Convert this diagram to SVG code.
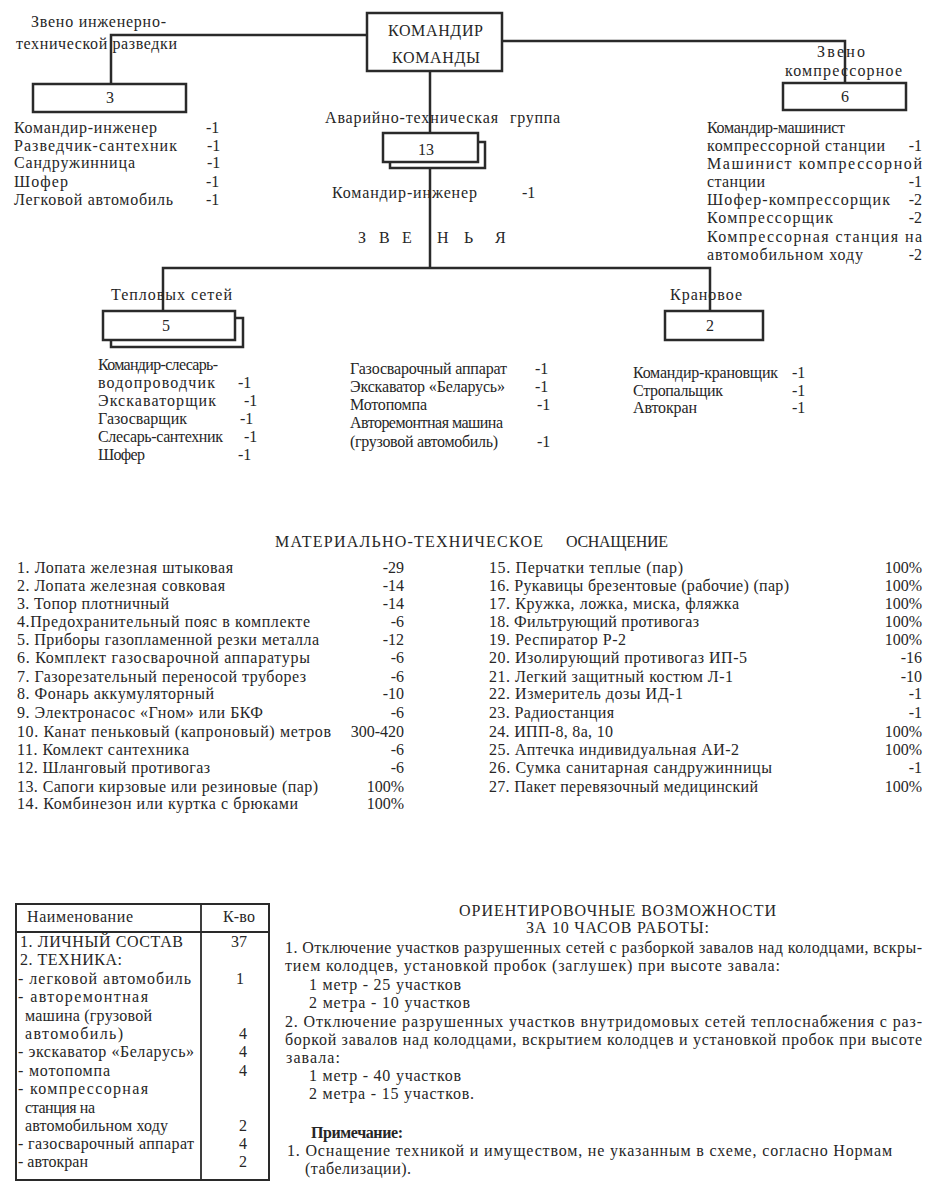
<svg xmlns="http://www.w3.org/2000/svg" width="932" height="1194" viewBox="0 0 932 1194">
<style>
text{font-family:"Liberation Serif","DejaVu Serif",serif;font-size:16px;fill:#262626}
.box{fill:#fff;stroke:#2a2a2a;stroke-width:2.5}
.back{fill:none;stroke:#2a2a2a;stroke-width:2.5}
.ln{fill:none;stroke:#2a2a2a;stroke-width:2.5}
.c{text-anchor:middle}
.e{text-anchor:end}
.b{font-weight:bold}
</style>
<rect width="932" height="1194" fill="#fff"/>

<g id="connectors">
<path class="ln" d="M111,84 V35 H367"/>
<path class="ln" d="M502,41 H845 V83"/>
<path class="ln" d="M430,71 V133"/>
<path class="ln" d="M430,168 V268"/>
<path class="ln" d="M163,311 V268 H710 V311"/>
</g>

<g id="node-cmd">
<rect class="box" x="367" y="13" width="135" height="58" stroke-width="3"/>
<text x="388" y="36" textLength="95" lengthAdjust="spacing">КОМАНДИР</text>
<text x="392" y="63" textLength="88" lengthAdjust="spacing">КОМАНДЫ</text>
</g>

<g id="node-razvedka">
<text x="31" y="27" textLength="135" lengthAdjust="spacing">Звено инженерно-</text>
<text x="16" y="49" textLength="161" lengthAdjust="spacing">технической разведки</text>
<rect class="box" x="33" y="84" width="153" height="28"/>
<text class="c" x="110" y="103">3</text>
<text x="14" y="133" textLength="143" lengthAdjust="spacing">Командир-инженер</text><text x="206" y="133">-1</text>
<text x="14" y="151" textLength="163" lengthAdjust="spacing">Разведчик-сантехник</text><text x="207" y="151">-1</text>
<text x="14" y="168" textLength="121" lengthAdjust="spacing">Сандружинница</text><text x="207" y="168">-1</text>
<text x="14" y="187" textLength="54" lengthAdjust="spacing">Шофер</text><text x="206" y="187">-1</text>
<text x="14" y="205" textLength="159" lengthAdjust="spacing">Легковой автомобиль</text><text x="206" y="205">-1</text>
</g>

<g id="node-kompr">
<text x="817" y="57" textLength="48" lengthAdjust="spacing">Звено</text>
<text x="785" y="76" textLength="117" lengthAdjust="spacing">компрессорное</text>
<rect class="box" x="783" y="83" width="123" height="27"/>
<text class="c" x="845" y="102">6</text>
<text x="707" y="133" textLength="138" lengthAdjust="spacing">Командир-машинист</text>
<text x="707" y="151" textLength="178" lengthAdjust="spacing">компрессорной станции</text><text class="e" x="922" y="151">-1</text>
<text x="707" y="169" textLength="215" lengthAdjust="spacing">Машинист компрессорной</text>
<text x="707" y="187" textLength="58" lengthAdjust="spacing">станции</text><text class="e" x="922" y="187">-1</text>
<text x="707" y="205" textLength="183" lengthAdjust="spacing">Шофер-компрессорщик</text><text class="e" x="922" y="205">-2</text>
<text x="707" y="223" textLength="126" lengthAdjust="spacing">Компрессорщик</text><text class="e" x="922" y="223">-2</text>
<text x="707" y="242" textLength="215" lengthAdjust="spacing">Компрессорная станция на</text>
<text x="707" y="260" textLength="156" lengthAdjust="spacing">автомобильном ходу</text><text class="e" x="922" y="260">-2</text>
</g>

<g id="node-avar">
<text x="325" y="123" textLength="173" lengthAdjust="spacing">Аварийно-техническая</text>
<text x="510" y="123" textLength="50" lengthAdjust="spacing">группа</text>
<path class="back" d="M478,142 H485 V168 H390 V162"/>
<rect class="box" x="383" y="133" width="95" height="29"/>
<text class="c" x="426" y="155">13</text>
<text x="332" y="198" textLength="145" lengthAdjust="spacing">Командир-инженер</text><text x="522" y="198">-1</text>
<text y="243"><tspan x="358">З</tspan><tspan x="379">В</tspan><tspan x="402">Е</tspan><tspan x="437">Н</tspan><tspan x="464">Ь</tspan><tspan x="495">Я</tspan></text>
</g>

<g id="node-teplo">
<text x="111" y="300" textLength="121" lengthAdjust="spacing">Тепловых сетей</text>
<path class="back" d="M235,318 H243 V347 H111 V340"/>
<rect class="box" x="103" y="311" width="132" height="29"/>
<text class="c" x="166" y="331">5</text>
<text x="98" y="370" textLength="120" lengthAdjust="spacing">Командир-слесарь-</text>
<text x="98" y="388" textLength="117" lengthAdjust="spacing">водопроводчик</text><text x="238" y="388">-1</text>
<text x="98" y="406" textLength="118" lengthAdjust="spacing">Экскаваторщик</text><text x="244" y="406">-1</text>
<text x="98" y="424" textLength="89" lengthAdjust="spacing">Газосварщик</text><text x="240" y="424">-1</text>
<text x="98" y="442" textLength="125" lengthAdjust="spacing">Слесарь-сантехник</text><text x="244" y="442">-1</text>
<text x="98" y="460" textLength="47" lengthAdjust="spacing">Шофер</text><text x="238" y="460">-1</text>
</g>

<g id="node-teplo-tech">
<text x="350" y="374" textLength="157" lengthAdjust="spacing">Газосварочный аппарат</text><text x="535" y="374">-1</text>
<text x="350" y="392" textLength="155" lengthAdjust="spacing">Экскаватор «Беларусь»</text><text x="535" y="392">-1</text>
<text x="350" y="410" textLength="77" lengthAdjust="spacing">Мотопомпа</text><text x="537" y="410">-1</text>
<text x="350" y="428" textLength="153" lengthAdjust="spacing">Авторемонтная машина</text>
<text x="350" y="447" textLength="148" lengthAdjust="spacing">(грузовой автомобиль)</text><text x="537" y="447">-1</text>
</g>

<g id="node-kran">
<text x="670" y="300" textLength="72" lengthAdjust="spacing">Крановое</text>
<rect class="box" x="665" y="311" width="98" height="29"/>
<text class="c" x="710" y="331">2</text>
<text x="633" y="378" textLength="145" lengthAdjust="spacing">Командир-крановщик</text><text x="792" y="378">-1</text>
<text x="633" y="396" textLength="90" lengthAdjust="spacing">Стропальщик</text><text x="792" y="396">-1</text>
<text x="633" y="413" textLength="64" lengthAdjust="spacing">Автокран</text><text x="792" y="413">-1</text>
</g>

<g id="equipment">
<text x="275" y="547" textLength="268" lengthAdjust="spacing">МАТЕРИАЛЬНО-ТЕХНИЧЕСКОЕ</text>
<text x="566" y="547" textLength="102" lengthAdjust="spacing">ОСНАЩЕНИЕ</text>
<text x="17" y="573" textLength="216" lengthAdjust="spacing">1. Лопата железная штыковая</text><text class="e" x="404" y="573">-29</text>
<text x="17" y="591" textLength="208" lengthAdjust="spacing">2. Лопата железная совковая</text><text class="e" x="404" y="591">-14</text>
<text x="17" y="609" textLength="152" lengthAdjust="spacing">3. Топор плотничный</text><text class="e" x="404" y="609">-14</text>
<text x="17" y="627" textLength="293" lengthAdjust="spacing">4.Предохранительный пояс в комплекте</text><text class="e" x="404" y="627">-6</text>
<text x="17" y="645" textLength="302" lengthAdjust="spacing">5. Приборы газопламенной резки металла</text><text class="e" x="404" y="645">-12</text>
<text x="17" y="663" textLength="293" lengthAdjust="spacing">6. Комплект  газосварочной аппаратуры</text><text class="e" x="404" y="663">-6</text>
<text x="17" y="682" textLength="289" lengthAdjust="spacing">7. Газорезательный переносой труборез</text><text class="e" x="404" y="682">-6</text>
<text x="17" y="699" textLength="197" lengthAdjust="spacing">8. Фонарь аккумуляторный</text><text class="e" x="404" y="699">-10</text>
<text x="17" y="718" textLength="246" lengthAdjust="spacing">9. Электронасос «Гном» или БКФ</text><text class="e" x="404" y="718">-6</text>
<text x="17" y="737" textLength="314" lengthAdjust="spacing">10. Канат пеньковый (капроновый) метров</text><text class="e" x="404" y="737">300-420</text>
<text x="17" y="755" textLength="172" lengthAdjust="spacing">11. Комлект сантехника</text><text class="e" x="404" y="755">-6</text>
<text x="17" y="773" textLength="193" lengthAdjust="spacing">12. Шланговый противогаз</text><text class="e" x="404" y="773">-6</text>
<text x="17" y="792" textLength="301" lengthAdjust="spacing">13. Сапоги кирзовые или резиновые (пар)</text><text class="e" x="404" y="792">100%</text>
<text x="17" y="809" textLength="281" lengthAdjust="spacing">14. Комбинезон или куртка с брюками</text><text class="e" x="404" y="809">100%</text>

<text x="489" y="573" textLength="194" lengthAdjust="spacing">15. Перчатки теплые (пар)</text><text class="e" x="922" y="573">100%</text>
<text x="489" y="591" textLength="300" lengthAdjust="spacing">16. Рукавицы брезентовые (рабочие) (пар)</text><text class="e" x="922" y="591">100%</text>
<text x="489" y="609" textLength="250" lengthAdjust="spacing">17. Кружка, ложка, миска, фляжка</text><text class="e" x="922" y="609">100%</text>
<text x="489" y="627" textLength="210" lengthAdjust="spacing">18. Фильтрующий противогаз</text><text class="e" x="922" y="627">100%</text>
<text x="489" y="645" textLength="137" lengthAdjust="spacing">19. Респиратор Р-2</text><text class="e" x="922" y="645">100%</text>
<text x="489" y="663" textLength="258" lengthAdjust="spacing">20. Изолирующий противогаз ИП-5</text><text class="e" x="922" y="663">-16</text>
<text x="489" y="682" textLength="244" lengthAdjust="spacing">21. Легкий защитный костюм Л-1</text><text class="e" x="922" y="682">-10</text>
<text x="489" y="699" textLength="194" lengthAdjust="spacing">22. Измеритель дозы ИД-1</text><text class="e" x="922" y="699">-1</text>
<text x="489" y="718" textLength="125" lengthAdjust="spacing">23. Радиостанция</text><text class="e" x="922" y="718">-1</text>
<text x="489" y="737" textLength="124" lengthAdjust="spacing">24. ИПП-8, 8а, 10</text><text class="e" x="922" y="737">100%</text>
<text x="489" y="755" textLength="250" lengthAdjust="spacing">25. Аптечка индивидуальная АИ-2</text><text class="e" x="922" y="755">100%</text>
<text x="489" y="773" textLength="283" lengthAdjust="spacing">26. Сумка санитарная сандружинницы</text><text class="e" x="922" y="773">-1</text>
<text x="489" y="792" textLength="269" lengthAdjust="spacing">27. Пакет перевязочный медицинский</text><text class="e" x="922" y="792">100%</text>
</g>

<g id="summary-table">
<rect x="16" y="904" width="253" height="276" fill="none" stroke="#2a2a2a" stroke-width="2"/>
<line x1="201" y1="904" x2="201" y2="1180" stroke="#2a2a2a" stroke-width="1.8"/>
<line x1="16" y1="932" x2="269" y2="932" stroke="#2a2a2a" stroke-width="2.2"/>
<text x="27" y="922" textLength="106" lengthAdjust="spacing">Наименование</text><text x="223" y="922" textLength="32" lengthAdjust="spacing">К-во</text>
<text x="20" y="947" textLength="163" lengthAdjust="spacing">1. ЛИЧНЫЙ СОСТАВ</text><text class="c" x="239" y="947">37</text>
<text x="20" y="965" textLength="102" lengthAdjust="spacing">2. ТЕХНИКА:</text>
<text x="18" y="984" textLength="173" lengthAdjust="spacing">- легковой автомобиль</text><text class="c" x="240" y="984">1</text>
<text x="18" y="1002" textLength="130" lengthAdjust="spacing">-  авторемонтная</text>
<text x="25" y="1021" textLength="127" lengthAdjust="spacing">машина (грузовой</text>
<text x="25" y="1039" textLength="98" lengthAdjust="spacing">автомобиль)</text><text class="c" x="243" y="1039">4</text>
<text x="18" y="1057" textLength="176" lengthAdjust="spacing">- экскаватор «Беларусь»</text><text class="c" x="243" y="1057">4</text>
<text x="18" y="1076" textLength="92" lengthAdjust="spacing">- мотопомпа</text><text class="c" x="243" y="1076">4</text>
<text x="18" y="1094" textLength="130" lengthAdjust="spacing">-  компрессорная</text>
<text x="25" y="1113" textLength="70" lengthAdjust="spacing">станция на</text>
<text x="25" y="1131" textLength="143" lengthAdjust="spacing">автомобильном ходу</text><text class="c" x="243" y="1131">2</text>
<text x="18" y="1149" textLength="176" lengthAdjust="spacing">- газосварочный аппарат</text><text class="c" x="243" y="1149">4</text>
<text x="18" y="1167" textLength="70" lengthAdjust="spacing">-  автокран</text><text class="c" x="243" y="1167">2</text>
</g>

<g id="capabilities">
<text x="459" y="916" textLength="317" lengthAdjust="spacing">ОРИЕНТИРОВОЧНЫЕ ВОЗМОЖНОСТИ</text>
<text x="526" y="933" textLength="183" lengthAdjust="spacing">ЗА 10 ЧАСОВ РАБОТЫ:</text>
<text x="285" y="953" textLength="637" lengthAdjust="spacing">1. Отключение участков разрушенных сетей с разборкой завалов над колодцами, вскры-</text>
<text x="285" y="971" textLength="495" lengthAdjust="spacing">тием колодцев, установкой пробок (заглушек) при высоте завала:</text>
<text x="309" y="990" textLength="152" lengthAdjust="spacing">1 метр - 25 участков</text>
<text x="309" y="1008" textLength="161" lengthAdjust="spacing">2 метра - 10 участков</text>
<text x="285" y="1027" textLength="637" lengthAdjust="spacing">2. Отключение разрушенных участков внутридомовых сетей теплоснабжения с раз-</text>
<text x="285" y="1045" textLength="637" lengthAdjust="spacing">боркой завалов над колодцами, вскрытием колодцев и установкой пробок при высоте</text>
<text x="286" y="1063" textLength="54" lengthAdjust="spacing">завала:</text>
<text x="309" y="1081" textLength="152" lengthAdjust="spacing">1 метр - 40 участков</text>
<text x="309" y="1099" textLength="165" lengthAdjust="spacing">2 метра - 15 участков.</text>
<text class="b" x="311" y="1138" textLength="92" lengthAdjust="spacing">Примечание:</text>
<text x="287" y="1156" textLength="605" lengthAdjust="spacing">1. Оснащение техникой и имуществом, не указанным в схеме, согласно Нормам</text>
<text x="305" y="1174" textLength="106" lengthAdjust="spacing">(табелизации).</text>
</g>
</svg>
